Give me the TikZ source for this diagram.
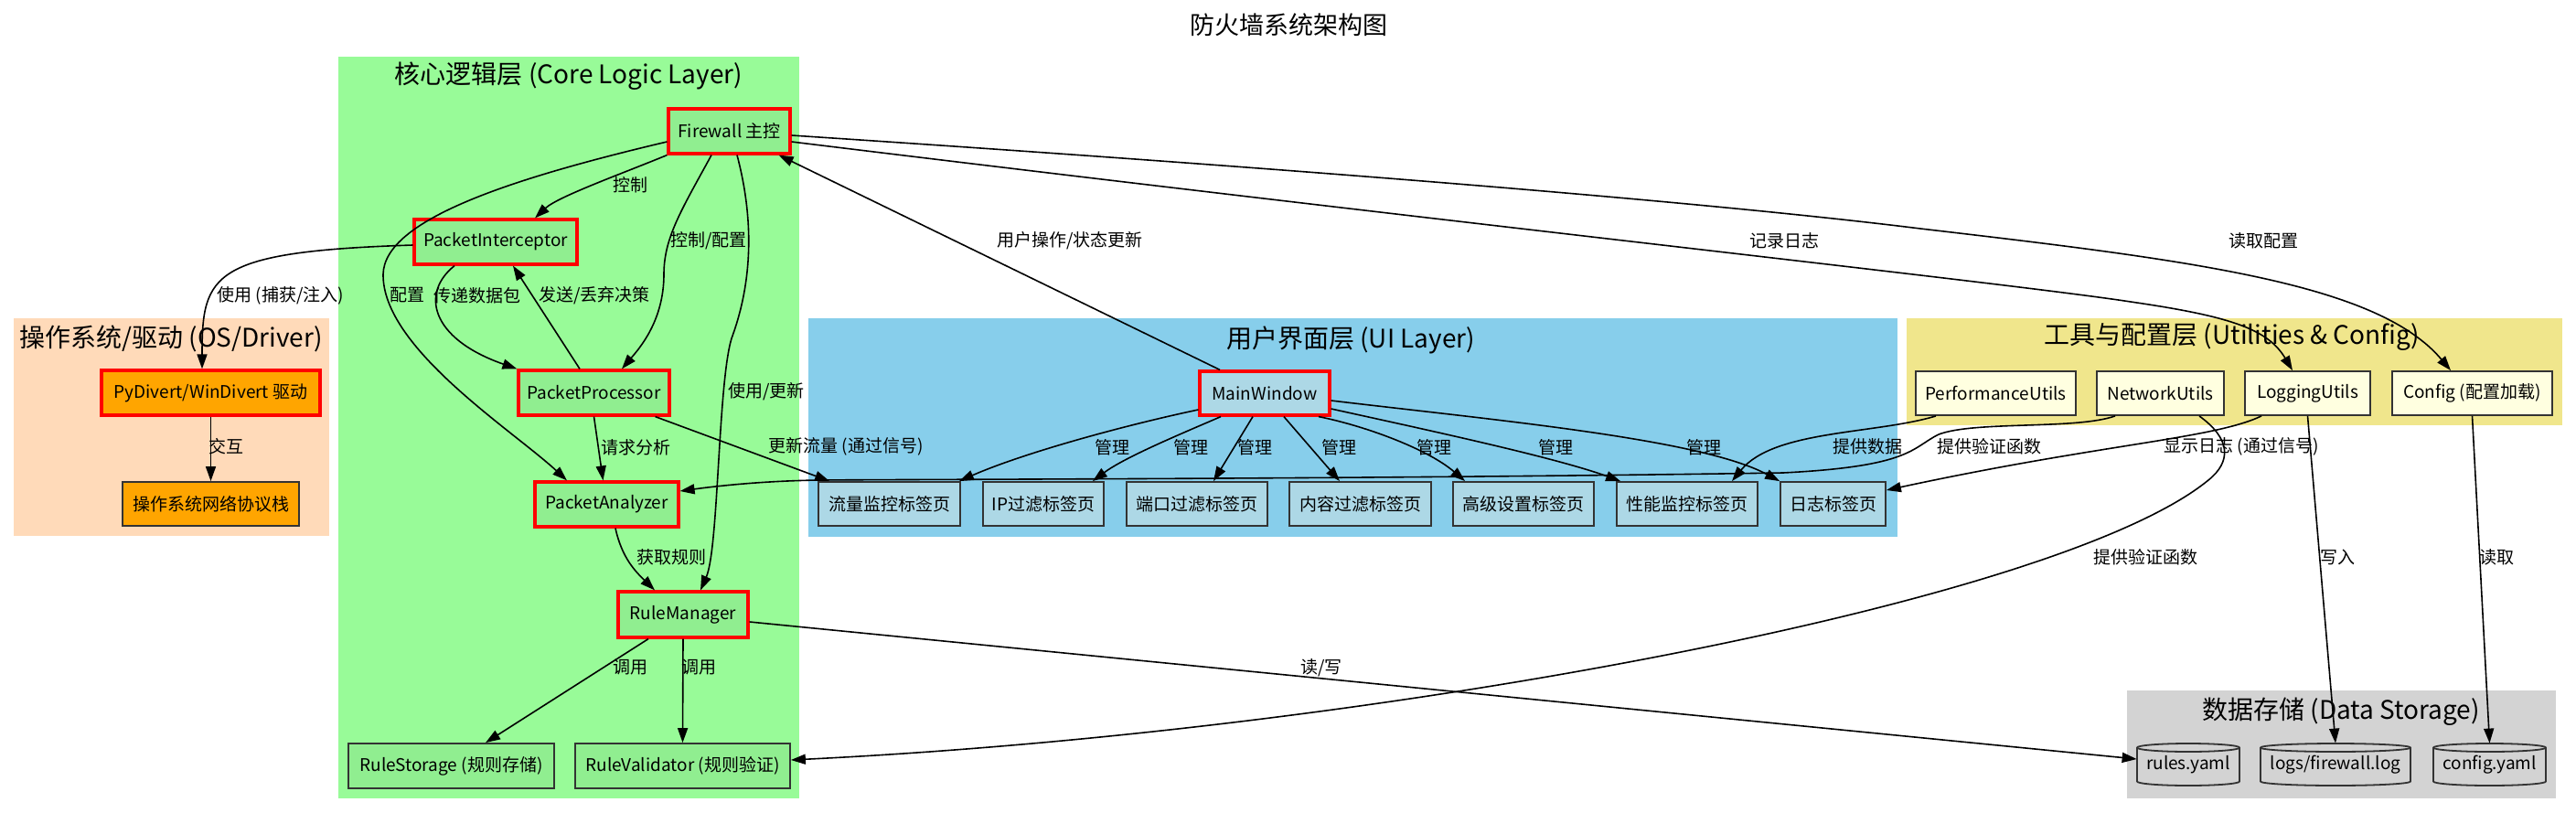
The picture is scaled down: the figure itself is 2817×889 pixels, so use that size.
\documentclass[tikz,border=0pt]{standalone}
\usepackage{fontspec}
\setmainfont{Noto Sans CJK SC}
\usetikzlibrary{arrows.meta}
\definecolor{cpale}{HTML}{98FB98}
\definecolor{cpeach}{HTML}{FFDAB9}
\definecolor{csky}{HTML}{87CEEB}
\definecolor{ckhaki}{HTML}{F0E68C}
\definecolor{cgrey}{HTML}{D3D3D3}
\definecolor{cgreen}{HTML}{90EE90}
\definecolor{corange}{HTML}{FFA500}
\definecolor{cblue}{HTML}{ADD8E6}
\definecolor{cyellow}{HTML}{FFFFE0}
\definecolor{cborder}{HTML}{333333}
\newcommand\fNode{\fontsize{9.5}{11}\selectfont}
\newcommand\fClu{\fontsize{14}{16}\selectfont}
\newcommand\fTitle{\fontsize{13.5}{16}\selectfont}
\newcommand\dbcyl[4]{%
  \pgfmathsetmacro\cylrx{(#2-#1)/4}%
  \draw[cyl] (#1,#3+4.5) -- (#1,#4-4.5) arc[start angle=180,end angle=360,x radius=\cylrx pt,y radius=2.25pt]
     -- (#2,#3+4.5) arc[start angle=0,end angle=180,x radius=\cylrx pt,y radius=2.25pt] -- cycle;
  \draw[cyl,fill=none] (#1,#3+4.5) arc[start angle=180,end angle=360,x radius=\cylrx pt,y radius=2.25pt];
}
\begin{document}
\begin{tikzpicture}[x=0.5pt,y=-0.5pt,
 base/.style={rectangle, draw=cborder, line width=0.9pt, inner sep=0pt, font=\fNode, minimum height=24.5pt, text=black},
 core/.style={base, fill=cgreen},
 key/.style={draw=red, line width=1.6pt},
 osbox/.style={base, fill=corange},
 uibox/.style={base, fill=cblue, minimum height=24pt},
 utbox/.style={base, fill=cyellow, minimum height=24pt},
 dbbox/.style={rectangle, inner sep=0pt, font=\fNode, minimum height=23pt},
 cyl/.style={draw=cborder, line width=0.9pt, fill=cgrey},
 conn/.style={draw=black, line width=0.8pt, -{Triangle[length=8pt,width=5.5pt]}},
 lbl/.style={font=\fNode, inner sep=0pt},
 clu/.style={font=\fClu, inner sep=0pt},
]
\useasboundingbox (0,0) rectangle (2817,889);
\fill[white] (0,0) rectangle (2817,889);

% clusters
\fill[cpale]  (370,62)   rectangle (874,873);
\fill[cpeach] (15,348)   rectangle (360,586);
\fill[csky]   (884,348)  rectangle (2075,587);
\fill[ckhaki] (2085,348) rectangle (2802,465);
\fill[cgrey]  (2326,755) rectangle (2795,873);

\node[font=\fTitle, inner sep=0pt] (title) at (1409,27) {防火墙系统架构图};
\node[clu] (tcore) at (622,83) {核心逻辑层 (Core Logic Layer)};
\node[clu] (tos) at (187,370) {操作系统/驱动 (OS/Driver)};
\node[clu] (tui) at (1477,372) {用户界面层 (UI Layer)};
\node[clu] (tut) at (2441,369) {工具与配置层 (Utilities \& Config)};
\node[clu] (tdb) at (2560,778) {数据存储 (Data Storage)};

% core nodes
\node[core,key,minimum width=66.5pt] (fw) at (797.5,143.5) {Firewall 主控};
\node[core,key,minimum width=89pt] (pi) at (542,264.5) {PacketInterceptor};
\node[core,key,minimum width=82.5pt] (pp) at (649.5,429.5) {PacketProcessor};
\node[core,key,minimum width=78.5pt] (pa) at (663.5,551.5) {PacketAnalyzer};
\node[core,key,minimum width=71pt,minimum height=25pt] (rm) at (747,672) {RuleManager};
\node[core,minimum width=112.5pt] (rs) at (493.5,837.5) {RuleStorage (规则存储)};
\node[core,minimum width=117.5pt] (rv) at (746.5,837.5) {RuleValidator (规则验证)};
% os nodes
\node[osbox,key,minimum width=119.5pt] (pyd) at (230.5,429.5) {PyDivert/WinDivert 驱动};
\node[osbox,minimum width=96.5pt,minimum height=24pt] (osn) at (230.5,551) {操作系统网络协议栈};
% ui nodes
\node[uibox,key,minimum width=71pt] (mw) at (1383,430) {MainWindow};
\node[uibox,minimum width=77.5pt] (t1) at (972.5,551) {流量监控标签页};
\node[uibox,minimum width=66pt] (t2) at (1141,551) {IP过滤标签页};
\node[uibox,minimum width=77pt] (t3) at (1309,551) {端口过滤标签页};
\node[uibox,minimum width=77.5pt] (t4) at (1487.5,551) {内容过滤标签页};
\node[uibox,minimum width=77pt] (t5) at (1666,551) {高级设置标签页};
\node[uibox,minimum width=77pt] (t6) at (1845,551) {性能监控标签页};
\node[uibox,minimum width=57.5pt] (t7) at (2004.5,551) {日志标签页};
% utils
\node[utbox,minimum width=87.5pt] (perf) at (2182.5,430) {PerformanceUtils};
\node[utbox,minimum width=69.5pt] (net) at (2362.5,430) {NetworkUtils};
\node[utbox,minimum width=68.5pt] (log) at (2523.5,430) {LoggingUtils};
\node[utbox,minimum width=87.5pt] (cfg) at (2703.5,430) {Config (配置加载)};
% storage
\dbcyl{2337}{2449}{813}{859}
\dbcyl{2472}{2636}{813}{859}
\dbcyl{2661}{2784}{813}{859}
\node[dbbox,minimum width=56pt] (rules) at (2393,836) {rules.yaml};
\node[dbbox,minimum width=82pt] (logs) at (2554,836) {logs/firewall.log};
\node[dbbox,minimum width=61.5pt] (cfgy) at (2722.5,836) {config.yaml};

% edges: core
\draw[conn] (fw.south west) .. controls (680,190) and (610,215) .. ([xshift=21.5pt]pi.north);
\draw[conn] ([xshift=-9.75pt]fw.south) .. controls (745,230) and (726,260) .. (726,300) .. controls (726,350) and (700,380) .. ([xshift=15.25pt]pp.north);
\draw[conn] ([yshift=-5.75pt]fw.west) .. controls (560,195) and (420,240) .. (419,300) .. controls (418,380) and (560,470) .. ([xshift=-21.75pt]pa.north);
\draw[conn] ([xshift=4.25pt]fw.south) .. controls (822,230) and (826,300) .. (800,370) .. controls (785,420) and (786,600) .. ([xshift=9.5pt]rm.north);
\draw[conn] ([yshift=-1.75pt]pi.west) .. controls (230,275) and (221,300) .. ([xshift=-4.75pt]pyd.north);
\draw[conn] ([xshift=-22.5pt]pi.south) .. controls (460,320) and (470,370) .. (pp.north west);
\draw[conn] ([xshift=-7.75pt]pp.north) -- ([xshift=9.5pt]pi.south);
\draw[conn] (pyd) -- (osn);
\draw[conn] (pp.south) -- ([xshift=-2pt]pa.north);
\draw[conn] ([xshift=-8.5pt]pp.south east) -- ([xshift=6.5pt]t1.north west);
\draw[conn] ([xshift=4.75pt]pa.south) .. controls (680,610) and (695,625) .. ([xshift=-15.5pt]rm.north);
\draw[conn] ([xshift=-19pt]rm.south) -- ([xshift=18.75pt]rs.north);
\draw[conn] (rm.south) -- (rv.north);
\draw[conn] ([yshift=-4pt]rm.east) -- ([yshift=3pt]rules.west);
% edges: ui
\draw[conn] ([xshift=-24.5pt]mw.north) -- ([xshift=-7pt]fw.south east);
\draw[conn] ([yshift=-9pt]mw.west) .. controls (1230,465) and (1120,495) .. ([xshift=-1pt]t1.north east);
\draw[conn] ([xshift=-24pt]mw.south) .. controls (1290,475) and (1230,500) .. ([xshift=-6.5pt]t2.north east);
\draw[conn] ([xshift=-6.5pt]mw.south) -- ([xshift=9pt]t3.north);
\draw[conn] ([xshift=10.5pt]mw.south) -- ([xshift=-11.25pt]t4.north);
\draw[conn] ([xshift=29.5pt]mw.south) .. controls (1490,465) and (1560,490) .. ([xshift=7pt]t5.north west);
\draw[conn] ([yshift=-8.5pt]mw.east) .. controls (1560,470) and (1700,500) .. ([xshift=2.5pt]t6.north west);
\draw[conn] ([yshift=-4pt]mw.east) .. controls (1640,460) and (1860,480) .. (t7.north west);
% edges: firewall to utils
\draw[conn] ([yshift=-5.75pt]fw.east) .. controls (1600,245) and (2200,310) .. (2330,330) .. controls (2440,346) and (2480,360) .. ([xshift=-8.25pt]log.north);
\draw[conn] ([yshift=-2.25pt]fw.east) .. controls (1500,190) and (1900,225) .. (2100,250) .. controls (2400,285) and (2600,310) .. ([xshift=-11.75pt]cfg.north);
% edges: utils
\draw[conn] ([xshift=-32.75pt]perf.south) .. controls (2050,475) and (1940,470) .. ([xshift=24.5pt]t6.north);
\draw[conn] ([xshift=-24.75pt]net.south) .. controls (2270,470) and (2160,460) .. (2120,475) .. controls (2090,490) and (2090,510) .. (1950,517) .. controls (1500,524) and (1000,524) .. (895,525) .. controls (830,526) and (780,532) .. ([yshift=7.25pt]pa.east);
\draw[conn] ([xshift=21.25pt]net.south) .. controls (2440,480) and (2440,505) .. (2415,525) .. controls (2250,660) and (1500,800) .. ([yshift=3.25pt]rv.east);
\draw[conn] ([xshift=-25.25pt]log.south) .. controls (2420,480) and (2300,485) .. ([yshift=7.5pt]t7.east);
\draw[conn] (log.south) -- (logs.north);
\draw[conn] (cfg.south) -- (cfgy.north);

% labels
\node[lbl] (l1) at (689,202) {控制};
\node[lbl] (l2) at (775,263) {控制/配置};
\node[lbl] (l3) at (445,323) {配置};
\node[lbl] (l4) at (522,323) {传递数据包};
\node[lbl] (l5) at (650,323) {发送/丢弃决策};
\node[lbl] (l6) at (307,323) {使用 (捕获/注入)};
\node[lbl] (l7) at (838,428) {使用/更新};
\node[lbl] (l8) at (247,488) {交互};
\node[lbl] (l9) at (695,489) {请求分析};
\node[lbl] (l10) at (925,488) {更新流量 (通过信号)};
\node[lbl] (l11) at (734,609) {获取规则};
\node[lbl] (l12) at (689,730) {调用};
\node[lbl] (l13) at (764,730) {调用};
\node[lbl] (l14) at (1445,730) {读/写};
\node[lbl] (l15) at (1170,263) {用户操作/状态更新};
\node[lbl] (l16) at (1951,263) {记录日志};
\node[lbl] (l17) at (2475,263) {读取配置};
\node[lbl] (m1) at (1216,489) {管理};
\node[lbl] (m2) at (1302,489) {管理};
\node[lbl] (m3) at (1372,489) {管理};
\node[lbl] (m4) at (1464,489) {管理};
\node[lbl] (m5) at (1568,489) {管理};
\node[lbl] (m6) at (1701,489) {管理};
\node[lbl] (m7) at (1863,489) {管理};
\node[lbl] (l18) at (2042,488) {提供数据};
\node[lbl] (l19) at (2175,488) {提供验证函数};
\node[lbl] (l20) at (2451,488) {显示日志 (通过信号)};
\node[lbl] (l21) at (2346,609) {提供验证函数};
\node[lbl] (l22) at (2556,609) {写入};
\node[lbl] (l23) at (2730,609) {读取};
\end{tikzpicture}
\end{document}
